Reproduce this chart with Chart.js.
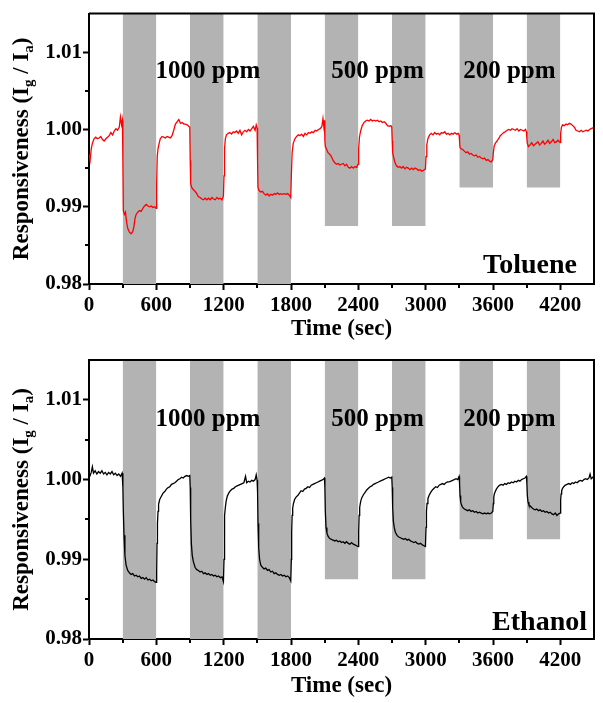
<!DOCTYPE html>
<html><head><meta charset="utf-8">
<script src="https://cdn.jsdelivr.net/npm/chart.js@4.4.0/dist/chart.umd.min.js"></script>
<style>
html,body{margin:0;padding:0;background:#fff;}
#c1{position:absolute;left:0;top:0;}
#c2{position:absolute;left:0;top:340px;}
</style></head><body>
<canvas id="c1" width="603" height="346"></canvas>
<canvas id="c2" width="603" height="363"></canvas>
<script>
// ---- data ----
const xTicks = [0, 600, 1200, 1800, 2400, 3000, 3600, 4200];
const yTicks = [0.98, 0.99, 1.00, 1.01];
const bandStart = [300, 900, 1500, 2100, 2700, 3300, 3900];
const bandEnd = [600, 1200, 1800, 2400, 3000, 3600, 4200];
const bandBottom = [0.98, 0.98, 0.98, 0.9875, 0.9875, 0.9925, 0.9925];
const concLabels = ['1000 ppm', '500 ppm', '200 ppm'];
const concLabelTime = [1060, 2571, 3746];
const gasNames = ['Toluene', 'Ethanol'];

const toluene = [
[0,0.9968],[10,0.9960],[20,0.9975],[30,0.9982],[45,0.9988],[60,0.9990],[75,0.9988],[90,0.9989],[105,0.9991],[120,0.9987],[135,0.9985],[150,0.9988],[165,0.9990],[180,0.9992],[195,0.9996],[210,0.9993],[225,0.9998],[240,1.0001],[255,0.9999],[270,1.0003],[280,1.0016],[290,1.0006],[298,1.0012],
[302,0.9960],[306,0.9895],[315,0.9890],[325,0.9893],[335,0.9880],[345,0.9872],[360,0.9867],[375,0.9865],[390,0.9868],[400,0.9874],[410,0.9885],[420,0.9890],[435,0.9893],[450,0.9895],[465,0.9894],[480,0.9898],[495,0.9901],[510,0.9903],[525,0.9901],[540,0.9900],[555,0.9901],[570,0.9899],[585,0.9900],[598,0.9898],
[603,0.9930],[608,0.9965],[615,0.9975],[625,0.9982],[635,0.9988],[650,0.9991],[665,0.9990],[680,0.9989],[695,0.9991],[710,0.9990],[725,0.9989],[740,0.9992],[755,0.9999],[770,1.0007],[785,1.0010],[800,1.0013],[815,1.0008],[830,1.0009],[845,1.0007],[860,1.0007],[875,1.0006],[890,1.0004],[898,1.0003],
[902,0.9960],[906,0.9930],[915,0.9925],[930,0.9922],[945,0.9920],[960,0.9917],[975,0.9913],[990,0.9912],[1005,0.9910],[1020,0.9909],[1035,0.9911],[1050,0.9909],[1065,0.9911],[1080,0.9909],[1095,0.9912],[1110,0.9910],[1125,0.9909],[1140,0.9912],[1155,0.9910],[1170,0.9911],[1185,0.9909],[1198,0.9914],
[1203,0.9940],[1208,0.9975],[1215,0.9988],[1225,0.9993],[1240,0.9995],[1255,0.9996],[1270,0.9994],[1285,0.9997],[1300,0.9996],[1315,0.9998],[1330,0.9995],[1345,0.9999],[1360,0.9993],[1375,0.9997],[1390,0.9999],[1405,0.9997],[1420,1.0000],[1435,0.9998],[1450,1.0001],[1465,1.0004],[1480,0.9999],[1490,1.0006],[1498,1.0002],
[1502,0.9960],[1506,0.9925],[1515,0.9921],[1530,0.9919],[1545,0.9920],[1560,0.9917],[1575,0.9915],[1590,0.9917],[1605,0.9914],[1620,0.9916],[1635,0.9915],[1650,0.9917],[1665,0.9916],[1680,0.9918],[1695,0.9916],[1710,0.9917],[1725,0.9916],[1740,0.9917],[1755,0.9916],[1770,0.9917],[1785,0.9915],[1798,0.9912],
[1803,0.9940],[1810,0.9970],[1820,0.9982],[1835,0.9988],[1850,0.9991],[1865,0.9993],[1880,0.9992],[1895,0.9994],[1910,0.9991],[1925,0.9995],[1940,0.9993],[1955,0.9996],[1970,0.9995],[1985,0.9997],[2000,0.9996],[2015,0.9999],[2030,0.9998],[2045,1.0000],[2060,1.0001],[2075,1.0004],[2085,1.0014],[2092,1.0004],[2098,1.0012],
[2102,0.9985],[2106,0.9978],[2115,0.9975],[2130,0.9970],[2145,0.9968],[2160,0.9965],[2175,0.9960],[2190,0.9957],[2205,0.9955],[2220,0.9956],[2235,0.9954],[2250,0.9955],[2265,0.9956],[2280,0.9953],[2295,0.9955],[2310,0.9951],[2325,0.9950],[2340,0.9952],[2355,0.9950],[2370,0.9952],[2385,0.9951],[2398,0.9955],
[2403,0.9975],[2410,0.9990],[2420,0.9998],[2435,1.0005],[2450,1.0009],[2465,1.0011],[2480,1.0012],[2495,1.0011],[2510,1.0013],[2525,1.0011],[2540,1.0012],[2555,1.0011],[2570,1.0012],[2585,1.0010],[2600,1.0011],[2615,1.0009],[2630,1.0010],[2645,1.0008],[2660,1.0005],[2675,1.0004],[2690,1.0005],[2698,1.0003],
[2702,0.9985],[2706,0.9970],[2715,0.9964],[2725,0.9958],[2740,0.9953],[2755,0.9951],[2770,0.9952],[2785,0.9950],[2800,0.9952],[2815,0.9949],[2830,0.9951],[2845,0.9950],[2860,0.9948],[2875,0.9950],[2890,0.9948],[2905,0.9950],[2920,0.9949],[2935,0.9947],[2950,0.9948],[2965,0.9946],[2980,0.9947],[2998,0.9949],
[3003,0.9965],[3010,0.9980],[3020,0.9988],[3035,0.9993],[3050,0.9995],[3065,0.9993],[3080,0.9996],[3095,0.9994],[3110,0.9995],[3125,0.9993],[3140,0.9996],[3155,0.9995],[3170,0.9997],[3185,0.9994],[3200,0.9995],[3215,0.9993],[3230,0.9995],[3245,0.9994],[3260,0.9996],[3275,0.9994],[3290,0.9995],[3298,0.9993],
[3302,0.9985],[3306,0.9977],[3315,0.9975],[3330,0.9974],[3345,0.9972],[3360,0.9970],[3375,0.9971],[3390,0.9968],[3405,0.9969],[3420,0.9967],[3435,0.9966],[3450,0.9967],[3465,0.9964],[3480,0.9965],[3495,0.9963],[3510,0.9962],[3525,0.9963],[3540,0.9960],[3555,0.9961],[3570,0.9959],[3585,0.9958],[3598,0.9961],
[3603,0.9970],[3610,0.9978],[3620,0.9982],[3635,0.9985],[3650,0.9988],[3665,0.9992],[3680,0.9994],[3695,0.9996],[3710,0.9997],[3725,0.9999],[3740,1.0000],[3755,0.9999],[3770,1.0001],[3785,1.0000],[3800,0.9999],[3815,1.0001],[3830,0.9998],[3845,1.0000],[3860,0.9999],[3875,0.9998],[3890,1.0000],[3898,0.9997],
[3902,0.9988],[3906,0.9982],[3915,0.9978],[3930,0.9980],[3945,0.9983],[3960,0.9979],[3975,0.9981],[4000,0.9984],[4015,0.9980],[4030,0.9982],[4045,0.9985],[4060,0.9981],[4075,0.9983],[4090,0.9986],[4105,0.9982],[4120,0.9984],[4135,0.9987],[4150,0.9983],[4165,0.9984],[4180,0.9986],[4198,0.9983],
[4203,0.9995],[4210,1.0003],[4220,1.0006],[4235,1.0005],[4250,1.0007],[4265,1.0006],[4280,1.0008],[4295,1.0007],[4310,1.0005],[4325,1.0003],[4340,0.9999],[4355,0.9998],[4370,0.9997],[4385,0.9999],[4400,0.9997],[4415,0.9998],[4430,0.9999],[4445,0.9998],[4460,1.0000],[4475,1.0001],[4490,1.0002],[4500,1.0003]
];

const ethanol = [
[0,1.0002],[10,1.0005],[20,1.0009],[30,1.0016],[40,1.0008],[55,1.0011],[70,1.0007],[85,1.0010],[100,1.0008],[115,1.0011],[130,1.0007],[145,1.0009],[160,1.0006],[175,1.0009],[190,1.0007],[205,1.0010],[220,1.0006],[235,1.0008],[250,1.0005],[265,1.0007],[280,1.0004],[295,1.0008],
[302,0.9990],[306,0.9960],[312,0.9930],[320,0.9905],[330,0.9893],[345,0.9886],[360,0.9883],[375,0.9881],[390,0.9882],[405,0.9879],[420,0.9880],[435,0.9878],[450,0.9879],[465,0.9876],[480,0.9877],[495,0.9875],[510,0.9877],[525,0.9874],[540,0.9875],[555,0.9873],[570,0.9874],[585,0.9872],[598,0.9871],
[603,0.9885],[606,0.9920],[610,0.9945],[615,0.9960],[620,0.9969],[630,0.9975],[645,0.9979],[660,0.9983],[675,0.9985],[690,0.9988],[705,0.9990],[720,0.9991],[735,0.9994],[750,0.9995],[765,0.9996],[780,0.9998],[795,1.0000],[810,1.0001],[825,1.0003],[840,1.0002],[855,1.0004],[870,1.0005],[885,1.0004],[898,1.0005],
[902,0.9990],[906,0.9950],[912,0.9920],[920,0.9905],[930,0.9897],[945,0.9890],[960,0.9887],[975,0.9886],[990,0.9884],[1005,0.9885],[1020,0.9882],[1035,0.9883],[1050,0.9881],[1065,0.9882],[1080,0.9880],[1095,0.9881],[1110,0.9879],[1125,0.9880],[1140,0.9878],[1155,0.9879],[1170,0.9877],[1185,0.9878],[1198,0.9872],
[1203,0.9900],[1206,0.9935],[1210,0.9955],[1215,0.9965],[1222,0.9973],[1232,0.9979],[1245,0.9983],[1260,0.9986],[1275,0.9988],[1290,0.9989],[1305,0.9991],[1320,0.9992],[1335,0.9993],[1350,0.9994],[1365,0.9995],[1380,0.9996],[1395,1.0004],[1405,0.9996],[1420,0.9998],[1435,0.9997],[1450,0.9999],[1465,0.9998],[1480,1.0000],[1490,1.0006],[1498,0.9999],
[1502,0.9985],[1506,0.9945],[1512,0.9915],[1520,0.9900],[1530,0.9893],[1545,0.9890],[1560,0.9888],[1575,0.9889],[1590,0.9886],[1605,0.9887],[1620,0.9884],[1635,0.9885],[1650,0.9882],[1665,0.9883],[1680,0.9881],[1695,0.9880],[1710,0.9881],[1725,0.9879],[1740,0.9880],[1755,0.9878],[1770,0.9879],[1785,0.9877],[1798,0.9873],
[1803,0.9900],[1806,0.9935],[1810,0.9955],[1815,0.9964],[1822,0.9970],[1832,0.9975],[1845,0.9978],[1860,0.9980],[1875,0.9983],[1890,0.9986],[1905,0.9985],[1920,0.9988],[1935,0.9989],[1950,0.9991],[1965,0.9990],[1980,0.9993],[1995,0.9994],[2010,0.9995],[2025,0.9996],[2040,0.9997],[2055,0.9998],[2070,0.9999],[2085,1.0000],[2098,1.0002],
[2102,0.9990],[2106,0.9960],[2112,0.9940],[2120,0.9933],[2130,0.9929],[2145,0.9926],[2160,0.9925],[2175,0.9924],[2190,0.9923],[2205,0.9924],[2220,0.9922],[2235,0.9923],[2250,0.9921],[2265,0.9922],[2280,0.9920],[2295,0.9922],[2310,0.9920],[2325,0.9919],[2340,0.9921],[2355,0.9919],[2370,0.9918],[2385,0.9917],[2398,0.9916],
[2403,0.9935],[2407,0.9955],[2412,0.9965],[2420,0.9972],[2430,0.9977],[2445,0.9981],[2460,0.9984],[2475,0.9987],[2490,0.9989],[2505,0.9991],[2520,0.9992],[2535,0.9994],[2550,0.9995],[2565,0.9996],[2580,0.9997],[2595,0.9998],[2610,0.9999],[2625,1.0000],[2640,1.0001],[2655,1.0002],[2670,1.0003],[2685,1.0002],[2698,1.0003],
[2702,0.9990],[2706,0.9965],[2712,0.9948],[2720,0.9940],[2730,0.9934],[2745,0.9930],[2760,0.9928],[2775,0.9927],[2790,0.9926],[2805,0.9925],[2820,0.9926],[2835,0.9924],[2850,0.9925],[2865,0.9923],[2880,0.9922],[2895,0.9921],[2910,0.9922],[2925,0.9920],[2940,0.9919],[2955,0.9920],[2970,0.9918],[2985,0.9917],[2998,0.9916],
[3003,0.9940],[3007,0.9960],[3012,0.9970],[3020,0.9976],[3030,0.9980],[3045,0.9984],[3060,0.9987],[3075,0.9989],[3090,0.9991],[3105,0.9990],[3120,0.9993],[3135,0.9994],[3150,0.9995],[3165,0.9994],[3180,0.9996],[3195,0.9997],[3210,0.9997],[3225,0.9998],[3240,0.9999],[3255,1.0000],[3270,1.0001],[3285,1.0000],[3298,1.0004],
[3302,0.9995],[3306,0.9980],[3312,0.9972],[3320,0.9968],[3330,0.9965],[3345,0.9963],[3360,0.9962],[3375,0.9961],[3390,0.9962],[3405,0.9960],[3420,0.9961],[3435,0.9959],[3450,0.9960],[3465,0.9958],[3480,0.9959],[3495,0.9958],[3510,0.9957],[3525,0.9958],[3540,0.9957],[3555,0.9958],[3570,0.9957],[3585,0.9958],[3598,0.9960],
[3603,0.9970],[3607,0.9978],[3612,0.9982],[3620,0.9985],[3630,0.9988],[3645,0.9991],[3660,0.9993],[3675,0.9994],[3690,0.9993],[3705,0.9995],[3720,0.9994],[3735,0.9996],[3750,0.9995],[3765,0.9997],[3780,0.9996],[3795,0.9998],[3810,0.9997],[3825,0.9999],[3840,0.9998],[3855,1.0000],[3870,1.0001],[3885,1.0002],[3898,1.0004],
[3902,0.9995],[3906,0.9980],[3912,0.9972],[3920,0.9968],[3930,0.9967],[3945,0.9965],[3960,0.9963],[3975,0.9962],[3990,0.9963],[4005,0.9961],[4020,0.9962],[4035,0.9960],[4050,0.9961],[4065,0.9959],[4080,0.9960],[4095,0.9958],[4110,0.9959],[4125,0.9957],[4140,0.9956],[4155,0.9958],[4170,0.9955],[4185,0.9957],[4198,0.9958],
[4203,0.9975],[4207,0.9982],[4212,0.9986],[4220,0.9989],[4230,0.9991],[4245,0.9993],[4260,0.9994],[4275,0.9995],[4290,0.9994],[4305,0.9996],[4320,0.9995],[4335,0.9997],[4350,0.9996],[4365,0.9998],[4380,0.9999],[4395,0.9998],[4410,1.0000],[4425,1.0001],[4440,1.0000],[4455,1.0002],[4465,1.0007],[4475,1.0001],[4490,1.0003],[4500,1.0002]
];

// ---- drawing ----
const X_MIN = 0, X_MAX = 4500, Y_MIN = 0.98, Y_MAX = 1.015;
const FONT = '"Liberation Serif", "Times New Roman", serif';

function drawYTitle(ctx, bx, cy) {
  const main = 'bold 23px ' + FONT, sub = 'bold 15px ' + FONT;
  const parts = [['Responsiveness (I', main, 0], ['g', sub, 5], [' / I', main, 0], ['a', sub, 5], [')', main, 0]];
  ctx.save();
  ctx.translate(bx, cy);
  ctx.rotate(-Math.PI / 2);
  let total = 0;
  parts.forEach(p => { ctx.font = p[1]; total += ctx.measureText(p[0]).width; });
  let x = -total / 2;
  ctx.fillStyle = '#000';
  ctx.textBaseline = 'alphabetic';
  ctx.textAlign = 'left';
  parts.forEach(p => { ctx.font = p[1]; ctx.fillText(p[0], x, p[2]); x += ctx.measureText(p[0]).width; });
  ctx.restore();
}

function makeDecor(cfg) {
  return {
    id: 'decor',
    afterDraw(chart) {
      const ctx = chart.ctx, a = chart.chartArea;
      const xs = chart.scales.x, ys = chart.scales.y;
      ctx.save();
      ctx.strokeStyle = '#000'; ctx.lineWidth = 2;
      ctx.beginPath();
      ctx.moveTo(a.left, a.top); ctx.lineTo(a.right, a.top); ctx.lineTo(a.right, a.bottom);
      ctx.stroke();
      for (let t = 300; t < X_MAX; t += 600) {
        const px = Math.round(xs.getPixelForValue(t));
        ctx.beginPath(); ctx.moveTo(px, a.bottom); ctx.lineTo(px, a.bottom + 4); ctx.stroke();
      }
      [0.985, 0.995, 1.005].forEach(v => {
        const py = Math.round(ys.getPixelForValue(v));
        ctx.beginPath(); ctx.moveTo(a.left, py); ctx.lineTo(a.left - 4, py); ctx.stroke();
      });
      ctx.fillStyle = '#000';
      ctx.font = 'bold 25px ' + FONT;
      ctx.textAlign = 'center'; ctx.textBaseline = 'alphabetic';
      concLabels.forEach((s, i) => {
        ctx.fillText(s, xs.getPixelForValue(concLabelTime[i]), ys.getPixelForValue(1.0067));
      });
      ctx.font = 'bold 28px ' + FONT;
      ctx.textAlign = 'right';
      ctx.fillText(cfg.name, cfg.nameRight, cfg.nameBase);
      ctx.font = 'bold 23px ' + FONT;
      ctx.textAlign = 'center';
      ctx.fillText('Time (sec)', (a.left + a.right) / 2, cfg.xTitleBase);
      drawYTitle(ctx, 28, (a.top + a.bottom) / 2);
      ctx.restore();
    }
  };
}

function makeChart(id, series, color, cfg) {
  const datasets = [{
    data: series.map(p => ({ x: p[0], y: p[1] })),
    borderColor: color, borderWidth: 1.3, pointRadius: 0, tension: 0, fill: false
  }];
  bandStart.forEach((s, i) => {
    datasets.push({
      data: [{ x: s, y: Y_MAX }, { x: bandEnd[i], y: Y_MAX }],
      backgroundColor: '#b3b3b3', borderColor: 'rgba(0,0,0,0)', borderWidth: 0,
      pointRadius: 0, fill: { value: bandBottom[i] }
    });
  });
  const tickFont = { family: FONT, size: 21, weight: 'bold' };
  return new Chart(document.getElementById(id), {
    type: 'line',
    data: { datasets },
    options: {
      responsive: false, animation: false,
      layout: { padding: { left: 0, right: 9, top: cfg.padTop, bottom: 0 } },
      plugins: { legend: { display: false }, tooltip: { enabled: false } },
      scales: {
        x: {
          type: 'linear', min: X_MIN, max: X_MAX,
          afterBuildTicks: s => { s.ticks = xTicks.map(v => ({ value: v })); },
          ticks: { autoSkip: false, color: '#000', font: tickFont, padding: 3, maxRotation: 0, minRotation: 0,
                   callback: v => String(v) },
          grid: { display: true, drawOnChartArea: false, drawTicks: true, tickLength: 6, tickWidth: 2, tickColor: '#000' },
          border: { display: true, color: '#000', width: 2 },
          afterFit: s => { s.height = cfg.xH; }
        },
        y: {
          type: 'linear', min: Y_MIN, max: Y_MAX,
          afterBuildTicks: s => { s.ticks = yTicks.map(v => ({ value: v })); },
          ticks: { autoSkip: false, color: '#000', font: tickFont, padding: 1,
                   callback: v => Number(v).toFixed(2) },
          grid: { display: true, drawOnChartArea: false, drawTicks: true, tickLength: 6, tickWidth: 2, tickColor: '#000' },
          border: { display: true, color: '#000', width: 2 },
          afterFit: s => { s.width = 89; }
        }
      }
    },
    plugins: [makeDecor(cfg)]
  });
}

makeChart('c1', toluene, '#ff0000', { name: gasNames[0], nameRight: 577, nameBase: 273, xTitleBase: 335, padTop: 4, xH: 62 });
makeChart('c2', ethanol, '#000000', { name: gasNames[1], nameRight: 587, nameBase: 290, xTitleBase: 352, padTop: 20, xH: 64 });
</script>
</body></html>
